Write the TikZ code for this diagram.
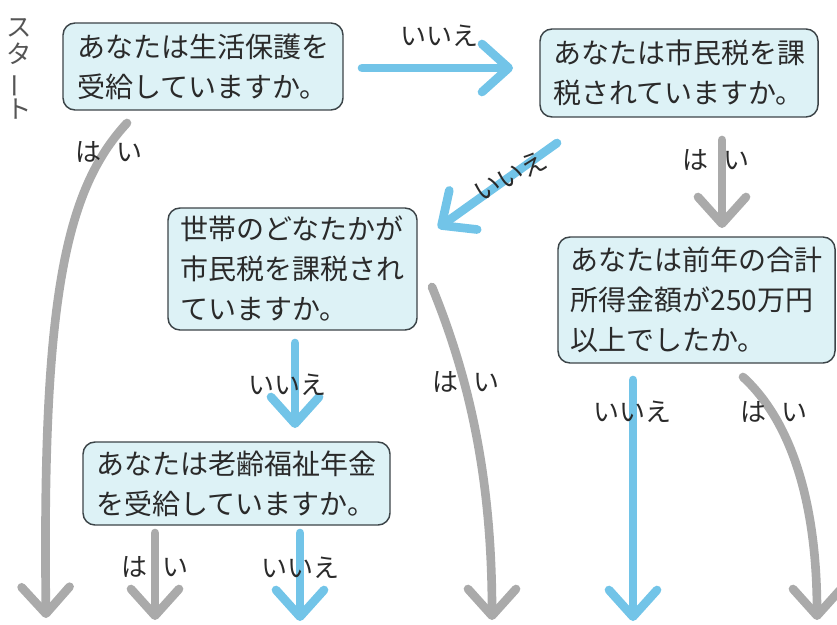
\documentclass[tikz,border=0pt]{standalone}
\usepackage{fontspec}
\setmainfont{Noto Sans CJK JP}
\usetikzlibrary{arrows.meta}
\definecolor{boxfill}{HTML}{DDF2F6}
\definecolor{boxline}{HTML}{3C4448}
\definecolor{crayonblue}{HTML}{72C4E8}
\definecolor{crayongray}{HTML}{AAAAAA}
\definecolor{txt}{HTML}{2A2A2A}
\definecolor{starttxt}{HTML}{555555}
\begin{document}
\begin{tikzpicture}[x=0.75pt,y=-0.75pt,
  qbox/.style={draw=boxline, line width=1.1pt, fill=boxfill, rounded corners=9pt,
    align=left, inner sep=0pt, text=txt, font=\fontsize{21pt}{30pt}\selectfont},
  lbl/.style={inner sep=0pt, text=txt, font=\fontsize{19.5pt}{24pt}\selectfont},
  crayon/.style={line width=6.5pt, line cap=round, line join=round,
    -{Straight Barb[length=20pt,width=36pt,round]}},
  yesarrow/.style={crayon, draw=crayongray},
  noarrow/.style={crayon, draw=crayonblue}]
\useasboundingbox (0,0) rectangle (837,624);

% start label
\node[inner sep=0pt, align=center, text=starttxt, font=\fontsize{19pt}{20.5pt}\selectfont] (start) at (19,69)
  {ス\\タ\\\rotatebox[origin=c]{90}{ー}\\ト};

% question boxes
\node[qbox, minimum width=210pt, minimum height=65.25pt] (b1) at (203,66.5)
  {あなたは生活保護を\\受給していますか。};
\node[qbox, minimum width=208.5pt, minimum height=66pt] (b2) at (679,73)
  {あなたは市民税を課\\税されていますか。};
\node[qbox, minimum width=186.75pt, minimum height=91.5pt] (b3) at (292.5,269)
  {世帯のどなたかが\\市民税を課税され\\ていますか。};
\node[qbox, minimum width=207.75pt, minimum height=94.5pt] (b4) at (696.5,300)
  {あなたは前年の合計\\所得金額が250万円\\以上でしたか。};
\node[qbox, minimum width=230.25pt, minimum height=62.25pt] (b5) at (236.5,483.5)
  {あなたは老齢福祉年金\\を受給していますか。};

% connector end points
\coordinate (a1s) at (362,68);   \coordinate (a1e) at (513,68);
\coordinate (a2s) at (127,123);  \coordinate (a2e) at (46,618);
\coordinate (a3s) at (557,143);  \coordinate (a3e) at (438,228);
\coordinate (a4s) at (722,140);  \coordinate (a4e) at (722,228);
\coordinate (a5s) at (295,343);  \coordinate (a5e) at (295,428);
\coordinate (a6s) at (432,287);  \coordinate (a6e) at (492,620);
\coordinate (a7s) at (633,380);  \coordinate (a7e) at (633,621);
\coordinate (a8s) at (743,377);  \coordinate (a8e) at (817,620);
\coordinate (a9s) at (155,533);  \coordinate (a9e) at (155,620);
\coordinate (a10s) at (300,533); \coordinate (a10e) at (300,621);

% arrows
\draw[noarrow] (a1s) -- (a1e);
\draw[yesarrow] (a2s) .. controls (65,190) and (42,300) .. (a2e);
\draw[noarrow] (a3s) -- (a3e);
\draw[yesarrow] (a4s) -- (a4e);
\draw[noarrow] (a5s) -- (a5e);
\draw[yesarrow] (a6s) .. controls (470,380) and (492,480) .. (a6e);
\draw[noarrow] (a7s) -- (a7e);
\draw[yesarrow] (a8s) .. controls (790,420) and (817,500) .. (a8e);
\draw[yesarrow] (a9s) -- (a9e);
\draw[noarrow] (a10s) -- (a10e);

% labels
\node[lbl] (l1) at (439,36) {いいえ};
\node[lbl] (l2) at (109,152) {は\hspace{0.55em}い};
\node[lbl, rotate=28] (l3) at (510,176) {いいえ};
\node[lbl] (l4) at (716,160) {は\hspace{0.55em}い};
\node[lbl] (l5) at (287,385) {いいえ};
\node[lbl] (l6) at (466,382) {は\hspace{0.55em}い};
\node[lbl] (l7) at (632,412) {いいえ};
\node[lbl] (l8) at (774,412) {は\hspace{0.55em}い};
\node[lbl] (l9) at (155,567) {は\hspace{0.55em}い};
\node[lbl] (l10) at (300,568) {いいえ};
\end{tikzpicture}
\end{document}
